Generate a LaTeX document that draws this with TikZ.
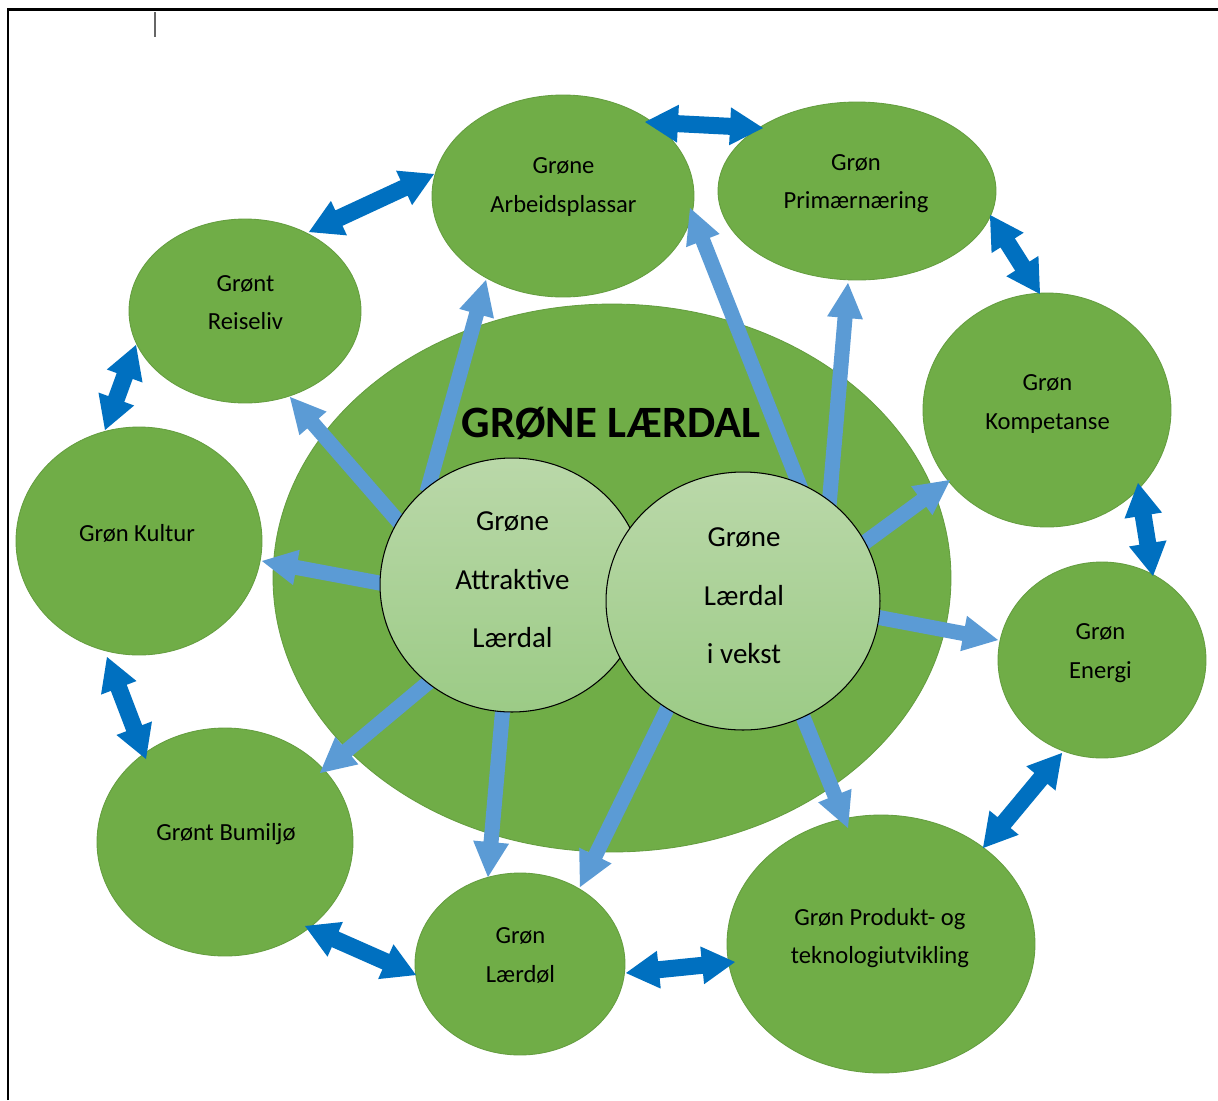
\documentclass[tikz,border=0pt]{standalone}
\usepackage{fontspec}
\setmainfont{Carlito}
\usetikzlibrary{shapes.geometric,calc}
\definecolor{grn}{HTML}{70AD47}
\definecolor{grnd}{HTML}{659E40}
\definecolor{lblue}{HTML}{5B9BD5}
\definecolor{dblue}{HTML}{0070C0}
\definecolor{innT}{HTML}{BAD8A9}
\definecolor{innB}{HTML}{9CCB86}
\newcommand\arLsw{0.15cm}
\newcommand\arLhw{0.36cm}
\newcommand\arLhl{0.70cm}
\newcommand\arDsw{0.17cm}
\newcommand\arDhw{0.38cm}
\newcommand\arDhl{0.66cm}
\newcommand\singlearrow[2]{%
  \coordinate (tmpH) at ($(#2)!\arLhl!(#1)$);
  \fill[lblue] ($(#1)!\arLsw!90:(#2)$) -- ($(tmpH)!\arLsw!90:(#2)$) -- ($(tmpH)!\arLhw!90:(#2)$) -- (#2)
    -- ($(tmpH)!\arLhw!-90:(#2)$) -- ($(tmpH)!\arLsw!-90:(#2)$) -- ($(#1)!\arLsw!-90:(#2)$) -- cycle;}
\newcommand\doublearrow[2]{%
  \coordinate (tmpA) at ($(#1)!\arDhl!(#2)$);
  \coordinate (tmpB) at ($(#2)!\arDhl!(#1)$);
  \fill[dblue] (#1) -- ($(tmpA)!\arDhw!90:(#2)$) -- ($(tmpA)!\arDsw!90:(#2)$) -- ($(tmpB)!\arDsw!90:(#2)$)
    -- ($(tmpB)!\arDhw!90:(#2)$) -- (#2) -- ($(tmpB)!\arDhw!-90:(#2)$) -- ($(tmpB)!\arDsw!-90:(#2)$)
    -- ($(tmpA)!\arDsw!-90:(#2)$) -- ($(tmpA)!\arDhw!-90:(#2)$) -- cycle;}
\tikzset{
  outer/.style={ellipse, fill=grn, draw=grnd, line width=0.5pt, inner sep=0pt},
  inner/.style={ellipse, top color=innT, bottom color=innB, draw=black, line width=0.6pt, inner sep=0pt},
  lbl/.style={font=\fontsize{14}{22}\selectfont, align=center, inner sep=0pt},
  ctr/.style={font=\fontsize{16.5}{33.4}\selectfont, align=center, inner sep=0pt},
  ttl/.style={font=\fontsize{25.5}{30}\selectfont\bfseries, inner sep=0pt}
}
\begin{document}
\begin{tikzpicture}[x=0.02cm, y=-0.02cm]
\useasboundingbox (0,0) rectangle (1218,1100);
\fill[white] (0,0) rectangle (1218,1100);
% frame and cursor
\draw[line width=1.25pt] (8,1100) -- (8,9.5) -- (1218,9.5);
\draw[black!60, line width=0.6pt] (155,12) -- (155,37);
% outer ellipses
\node[outer, minimum width=5.24cm, minimum height=4.04cm] (arb) at (563,196) {};
\node[outer, minimum width=5.56cm, minimum height=3.56cm] (prim) at (857,191) {};
\node[outer, minimum width=4.96cm, minimum height=4.68cm] (komp) at (1047,410) {};
\node[outer, minimum width=4.16cm, minimum height=3.92cm] (ener) at (1102,660) {};
\node[outer, minimum width=6.16cm, minimum height=5.16cm] (prod) at (881,944) {};
\node[outer, minimum width=4.20cm, minimum height=3.64cm] (laerdol) at (520,964) {};
\node[outer, minimum width=5.12cm, minimum height=4.56cm] (bumi) at (225,842) {};
\node[outer, minimum width=4.92cm, minimum height=4.56cm] (kult) at (139,541) {};
\node[outer, minimum width=4.64cm, minimum height=3.68cm] (reis) at (245,311) {};
% big ellipse
\node[outer, minimum width=13.56cm, minimum height=10.96cm] (big) at (612,578) {};
% light arrow end points
\coordinate (a1s) at (404,528); \coordinate (a1t) at (290,397);
\coordinate (a2s) at (390,585); \coordinate (a2t) at (262,561);
\coordinate (a3s) at (427,492); \coordinate (a3t) at (486,280);
\coordinate (a4s) at (801,489); \coordinate (a4t) at (690,208);
\coordinate (a5s) at (829,506); \coordinate (a5t) at (848,283);
\coordinate (a6s) at (860,546); \coordinate (a6t) at (950,480);
\coordinate (a7s) at (871,616); \coordinate (a7t) at (998,640);
\coordinate (a8s) at (799,707); \coordinate (a8t) at (848,828);
\coordinate (a9s) at (671,701); \coordinate (a9t) at (580,887);
\coordinate (a10s) at (503,706); \coordinate (a10t) at (488,877);
\coordinate (a11s) at (436,676); \coordinate (a11t) at (320,773);
\singlearrow{a1s}{a1t}
\singlearrow{a2s}{a2t}
\singlearrow{a3s}{a3t}
\singlearrow{a4s}{a4t}
\singlearrow{a5s}{a5t}
\singlearrow{a6s}{a6t}
\singlearrow{a7s}{a7t}
\singlearrow{a8s}{a8t}
\singlearrow{a9s}{a9t}
\singlearrow{a10s}{a10t}
\singlearrow{a11s}{a11t}
% inner circles
\node[inner, minimum width=5.28cm, minimum height=5.08cm] (attr) at (512,585) {};
\node[inner, minimum width=5.48cm, minimum height=5.16cm] (vekst) at (743,601) {};
% texts
\node[ttl] (title) at (611,423) {GRØNE LÆRDAL};
\node[ctr] (attrT) at (512.5,580) {Grøne\\Attraktive\\Lærdal};
\node[ctr] (vekstT) at (744,596) {Grøne\\Lærdal\\i vekst};
\node[lbl] (arbT) at (563.5,187) {Grøne\\Arbeidsplassar};
\node[lbl] (primT) at (856,183.5) {Grøn\\Primærnæring};
\node[lbl] (kompT) at (1047.5,404) {Grøn\\Kompetanse};
\node[lbl] (enerT) at (1100.5,653) {Grøn\\Energi};
\node[lbl] (prodT) at (880,938) {Grøn Produkt- og\\teknologiutvikling};
\node[lbl] (laerdolT) at (520.5,955.5) {Grøn\\Lærdøl};
\node[lbl] (bumiT) at (226,834) {Grønt Bumiljø};
\node[lbl] (kultT) at (137,533) {Grøn Kultur};
\node[lbl] (reisT) at (245.5,302.5) {Grønt\\Reiseliv};
% dark double arrows
\coordinate (d1a) at (309,232); \coordinate (d1b) at (434,174);
\coordinate (d2a) at (645,122); \coordinate (d2b) at (763,128);
\coordinate (d3a) at (990,215); \coordinate (d3b) at (1040,294);
\coordinate (d4a) at (1138,483); \coordinate (d4b) at (1153,576);
\coordinate (d5a) at (1062,753); \coordinate (d5b) at (983,848);
\coordinate (d6a) at (626,973); \coordinate (d6b) at (735,962);
\coordinate (d7a) at (305,926); \coordinate (d7b) at (416,975);
\coordinate (d8a) at (107,657); \coordinate (d8b) at (146,759);
\coordinate (d9a) at (136,345); \coordinate (d9b) at (105,430);
\doublearrow{d1a}{d1b}
\doublearrow{d2a}{d2b}
\doublearrow{d3a}{d3b}
\doublearrow{d4a}{d4b}
\doublearrow{d5a}{d5b}
\doublearrow{d6a}{d6b}
\doublearrow{d7a}{d7b}
\doublearrow{d8a}{d8b}
\doublearrow{d9a}{d9b}
\end{tikzpicture}
\end{document}
